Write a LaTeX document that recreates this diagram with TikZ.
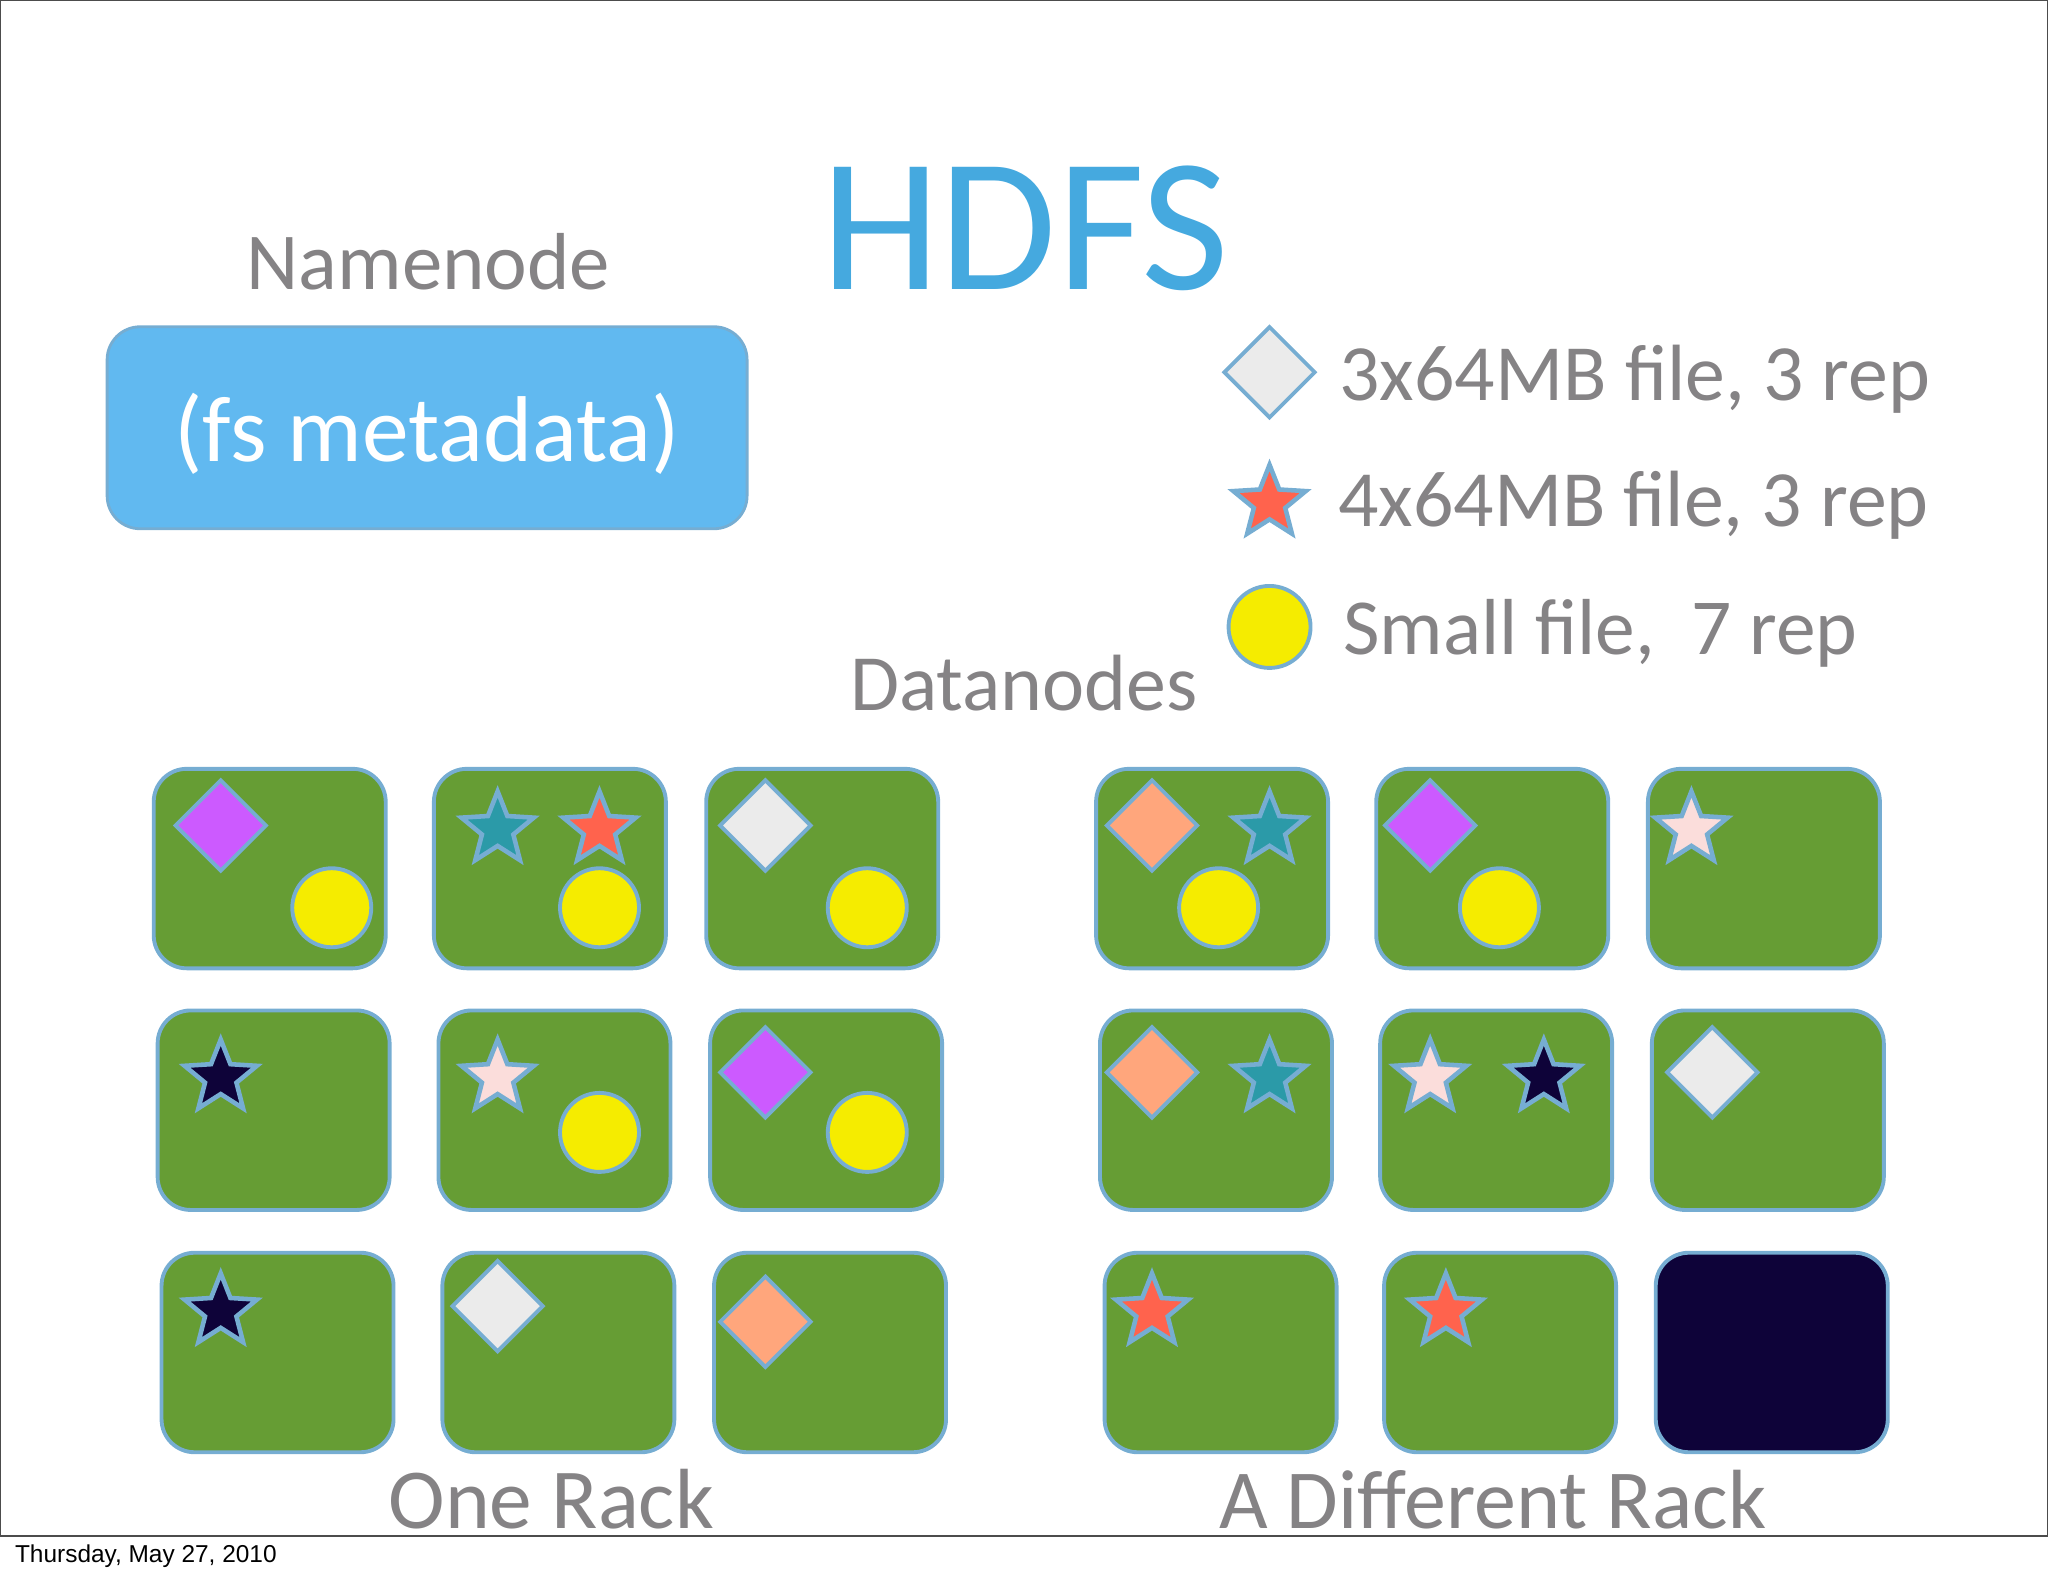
\documentclass[tikz,border=0pt]{standalone}
\usepackage{fontspec}
\setmainfont{Carlito}
\newfontfamily\footfont{Liberation Sans}
\usepackage{xcolor}
\usetikzlibrary{shapes.geometric}
\definecolor{edgeblue}{HTML}{76ADD2}
\definecolor{boxgreen}{HTML}{669D34}
\definecolor{titleblue}{HTML}{45A9DF}
\definecolor{metablue}{HTML}{61B9F0}
\definecolor{textgray}{HTML}{858385}
\definecolor{filepurple}{HTML}{CC5AFF}
\definecolor{fileyellow}{HTML}{F5EC00}
\definecolor{filegray}{HTML}{EBEBEB}
\definecolor{fileorange}{HTML}{FFA67C}
\definecolor{fileteal}{HTML}{2B9AA8}
\definecolor{filered}{HTML}{FF634D}
\definecolor{filepink}{HTML}{FBDDDB}
\definecolor{filenavy}{HTML}{0E0339}

\begin{document}
\begin{tikzpicture}[x=0.013061cm, y=-0.013061cm]
	\tikzstyle{databox} = [rectangle, draw = edgeblue, line width = 1.1pt, fill = boxgreen, minimum width = 2.32cm, minimum height = 1.995cm, rounded corners = 0.33cm, inner sep = 0pt]
	\tikzstyle{dmd} = [diamond, draw = edgeblue, line width = 1.1pt, minimum size = 0.92cm, inner sep = 0pt]
	\tikzstyle{str} = [star, star points = 5, star point ratio = 2.3, draw = edgeblue, line width = 1.3pt, minimum size = 0.76cm, inner sep = 0pt]
	\tikzstyle{crc} = [circle, draw = edgeblue, line width = 1.1pt, fill = fileyellow, minimum size = 0.79cm, inner sep = 0pt]
	\tikzstyle{label} = [text = textgray, anchor = base, inner sep = 0pt]

\useasboundingbox (0, 0) rectangle (1568, 1206.6);
\draw[draw = black!70, line width = 0.5pt] (0, 0) rectangle (1568, 1176);

\node[text = titleblue, anchor = base, inner sep = 0pt, font = \fontsize{54.2}{55}\selectfont] (title) at (785, 222) {HDFS};
\node[label, font = \fontsize{23}{23}\selectfont] (namenode) at (328, 222) {Namenode};
\node[rectangle, draw = edgeblue, line width = 0.8pt, fill = metablue, minimum width = 6.4cm, minimum height = 2.02cm, rounded corners = 0.33cm] (meta) at (327, 327.5) {};
\node[text = white, anchor = base, inner sep = 0pt, font = \fontsize{26.6}{27}\selectfont] (metatext) at (327, 353) {(fs metadata)};
\node[label, font = \fontsize{22.7}{23}\selectfont] (datanodes) at (784, 544) {Datanodes};

% legend
\node[dmd, fill = filegray] (key1) at (972, 285) {};
\node[str, fill = filered] (key2) at (972, 385) {};
\node[crc, minimum size = 0.82cm] (key3) at (972, 480) {};
\node[label, anchor = base west, font = \fontsize{22.7}{23}\selectfont] (keytext1) at (1025, 307) {3x64MB file, 3 rep};
\node[label, anchor = base west, font = \fontsize{22.7}{23}\selectfont] (keytext2) at (1024, 403) {4x64MB file, 3 rep};
\node[label, anchor = base west, font = \fontsize{22.6}{23}\selectfont] (keytext3) at (1028, 501) {Small file,\ \ 7 rep};

% first rack
\node[databox] (a1) at (206.5, 665) {};
\node[databox] (a2) at (421, 665) {};
\node[databox] (a3) at (629.5, 665) {};
\node[databox] (a4) at (209.5, 850) {};
\node[databox] (a5) at (424.5, 850) {};
\node[databox] (a6) at (632.5, 850) {};
\node[databox] (a7) at (212.5, 1035.5) {};
\node[databox] (a8) at (427.5, 1035.5) {};
\node[databox] (a9) at (635.5, 1035.5) {};

% second rack
\node[databox] (b1) at (928, 665) {};
\node[databox] (b2) at (1142.5, 665) {};
\node[databox] (b3) at (1350.5, 665) {};
\node[databox] (b4) at (931, 850) {};
\node[databox] (b5) at (1145.5, 850) {};
\node[databox] (b6) at (1353.5, 850) {};
\node[databox] (b7) at (934.5, 1035.5) {};
\node[databox] (b8) at (1148.5, 1035.5) {};
\node[databox, fill = filenavy] (b9) at (1356.5, 1035.5) {};

% blocks
\node[dmd, fill = filepurple] (a1d) at (169, 632) {};
\node[crc] (a1c) at (254, 695) {};
\node[str, fill = fileteal] (a2s) at (381, 635) {};
\node[str, fill = filered] (a2r) at (459, 635) {};
\node[crc] (a2c) at (459, 695) {};
\node[dmd, fill = filegray] (a3d) at (586, 632) {};
\node[crc] (a3c) at (664, 695) {};
\node[str, fill = filenavy] (a4s) at (169, 825) {};
\node[str, fill = filepink] (a5s) at (381, 825) {};
\node[crc] (a5c) at (459, 867) {};
\node[dmd, fill = filepurple] (a6d) at (586, 821) {};
\node[crc] (a6c) at (664, 867) {};
\node[str, fill = filenavy] (a7s) at (169, 1004) {};
\node[dmd, fill = filegray] (a8d) at (381, 1000) {};
\node[dmd, fill = fileorange] (a9d) at (586, 1012) {};

\node[dmd, fill = fileorange] (b1d) at (882, 632) {};
\node[str, fill = fileteal] (b1s) at (972, 635) {};
\node[crc] (b1c) at (933, 695) {};
\node[dmd, fill = filepurple] (b2d) at (1095, 632) {};
\node[crc] (b2c) at (1148, 695) {};
\node[str, fill = filepink] (b3s) at (1295, 635) {};
\node[dmd, fill = fileorange] (b4d) at (882, 821) {};
\node[str, fill = fileteal] (b4s) at (972, 825) {};
\node[str, fill = filepink] (b5s) at (1095, 825) {};
\node[str, fill = filenavy] (b5n) at (1182, 825) {};
\node[dmd, fill = filegray] (b6d) at (1311, 821) {};
\node[str, fill = filered] (b7s) at (882, 1004) {};
\node[str, fill = filered] (b8s) at (1107, 1004) {};

\node[label, font = \fontsize{24.3}{24}\selectfont] (rack1) at (422, 1170) {One Rack};
\node[label, font = \fontsize{23.9}{24}\selectfont] (rack2) at (1143, 1170) {A Different Rack};
\node[anchor = base west, inner sep = 0pt, font = \footfont\fontsize{6.95}{7}\selectfont] (stamp) at (11, 1196) {Thursday, May 27, 2010};
\end{tikzpicture}
\end{document}
